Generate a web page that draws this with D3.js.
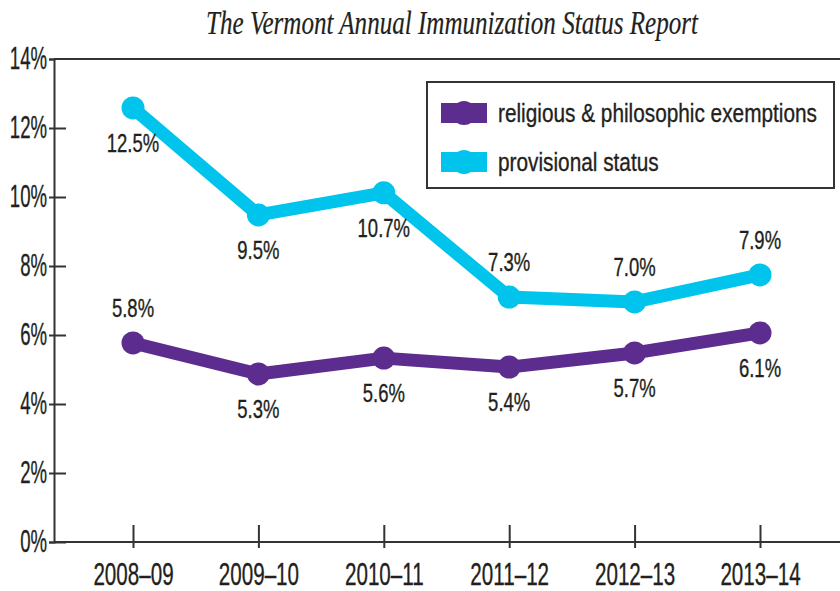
<!DOCTYPE html>
<html>
<head>
<meta charset="utf-8">
<script src="https://cdnjs.cloudflare.com/ajax/libs/d3/7.8.5/d3.min.js"></script>
<style>
  body { margin: 0; background: #fff; }
  text { font-family: "Liberation Sans", Arial, sans-serif; fill: #231f20; stroke: #231f20; stroke-width: 0.35px; }
  .title { font-family: "Liberation Serif", "Times New Roman", serif; font-style: italic; stroke-width: 0.2px; }
</style>
</head>
<body>
<svg id="chart" width="840" height="591"></svg>
<script>
// data
var years = ['2008–09', '2009–10', '2010–11', '2011–12', '2012–13', '2013–14'];
var provisional = [12.58, 9.48, 10.12, 7.10, 6.96, 7.74];
var religious = [5.77, 4.87, 5.33, 5.07, 5.48, 6.06];
var provisionalLabels = ['12.5%', '9.5%', '10.7%', '7.3%', '7.0%', '7.9%'];
var religiousLabels = ['5.8%', '5.3%', '5.6%', '5.4%', '5.7%', '6.1%'];
var yTicks = [0, 2, 4, 6, 8, 10, 12, 14];
var seriesNames = ['religious & philosophic exemptions', 'provisional status'];

// label placement: 1 = below the point, -1 = above
var provisionalSide = [1, 1, 1, -1, -1, -1];
var religiousSide = [-1, 1, 1, 1, 1, 1];

var colours = ['#5c2d8e', '#00c4ec'];

var svg = d3.select('#chart');

// squeeze text horizontally around its anchor to mimic a condensed face
function condense(sel, k) {
    sel.each(function() {
        var t = d3.select(this);
        var x0 = +t.attr('x') || 0;
        t.attr('transform', 'translate(' + x0 + ',0) scale(' + k + ',1) translate(' + (-x0) + ',0)');
    });
}

var x = d3.scalePoint().domain(years).range([133, 760]);
var y = d3.scaleLinear().domain([0, 14]).range([542, 59]);
var left = 54, right = 840;

// title
svg.append('text')
    .attr('class', 'title')
    .attr('x', 452)
    .attr('y', 34)
    .attr('text-anchor', 'middle')
    .style('font-size', '33px')
    .text('The Vermont Annual Immunization Status Report')
    .call(condense, 0.76);

// frame top line
svg.append('line')
    .attr('x1', left).attr('x2', right)
    .attr('y1', y(14)).attr('y2', y(14))
    .style('stroke', '#333').style('stroke-width', 2);

// y axis
var yAxis = svg.append('g')
    .attr('transform', 'translate(' + left + ',0)')
    .call(d3.axisLeft(y).tickValues(yTicks).tickSize(5).tickPadding(2)
        .tickFormat(function(d) { return d + '%'; }));
yAxis.select('.domain').style('stroke', '#333').style('stroke-width', 2);
yAxis.selectAll('.tick line')
    .attr('x1', -5).attr('x2', function(d) { return d === 14 ? 0 : 12; })
    .style('stroke', '#333').style('stroke-width', 2);
yAxis.selectAll('.tick text')
    .style('font-size', '31px')
    .attr('fill', '#231f20')
    .call(condense, 0.6);

// x axis
var xAxis = svg.append('g')
    .attr('transform', 'translate(0,' + y(0) + ')')
    .call(d3.axisBottom(x).tickSize(6).tickPadding(15));
xAxis.select('.domain').attr('d', 'M' + left + ',0H' + right)
    .style('stroke', '#333').style('stroke-width', 2);
xAxis.selectAll('.tick line')
    .attr('y1', -17).attr('y2', 6)
    .style('stroke', '#333').style('stroke-width', 2);
xAxis.selectAll('.tick text')
    .style('font-size', '31px')
    .attr('fill', '#231f20')
    .call(condense, 0.665);

// series
var series = [
    { values: religious, labels: religiousLabels, side: religiousSide, colour: colours[0] },
    { values: provisional, labels: provisionalLabels, side: provisionalSide, colour: colours[1] }
];

var line = d3.line()
    .x(function(d, i) { return x(years[i]); })
    .y(function(d) { return y(d); });

series.forEach(function(s) {
    var g = svg.append('g');
    g.append('path')
        .datum(s.values)
        .attr('d', line)
        .style('fill', 'none')
        .style('stroke', s.colour)
        .style('stroke-width', 13)
        .style('stroke-linejoin', 'round');

    g.selectAll('circle')
        .data(s.values)
        .enter().append('circle')
        .attr('cx', function(d, i) { return x(years[i]); })
        .attr('cy', function(d) { return y(d); })
        .attr('r', 11.5)
        .style('fill', s.colour);

    g.selectAll('text')
        .data(s.values)
        .enter().append('text')
        .attr('x', function(d, i) { return x(years[i]); })
        .attr('y', function(d, i) { return y(d) + s.side[i] * 35; })
        .attr('dy', '0.35em')
        .attr('text-anchor', 'middle')
        .style('font-size', '25px')
        .text(function(d, i) { return s.labels[i]; })
        .call(condense, 0.74);
});

// legend
var legend = svg.append('g').attr('transform', 'translate(427,82)');
legend.append('rect')
    .attr('width', 407).attr('height', 106)
    .style('fill', '#fff')
    .style('stroke', '#333').style('stroke-width', 2);

var item = legend.selectAll('.item')
    .data(seriesNames)
    .enter().append('g')
    .attr('class', 'item')
    .attr('transform', function(d, i) { return 'translate(14,' + (31 + i * 49) + ')'; });

item.append('rect')
    .attr('x', 0).attr('y', -10)
    .attr('width', 46).attr('height', 20)
    .style('fill', function(d, i) { return colours[i]; });
item.append('circle')
    .attr('cx', 23).attr('cy', 0).attr('r', 12)
    .style('fill', function(d, i) { return colours[i]; });
item.append('text')
    .attr('x', 57)
    .attr('dy', '0.35em')
    .style('font-size', '26px')
    .text(function(d) { return d; })
    .call(condense, 0.8);
</script>
</body>
</html>
